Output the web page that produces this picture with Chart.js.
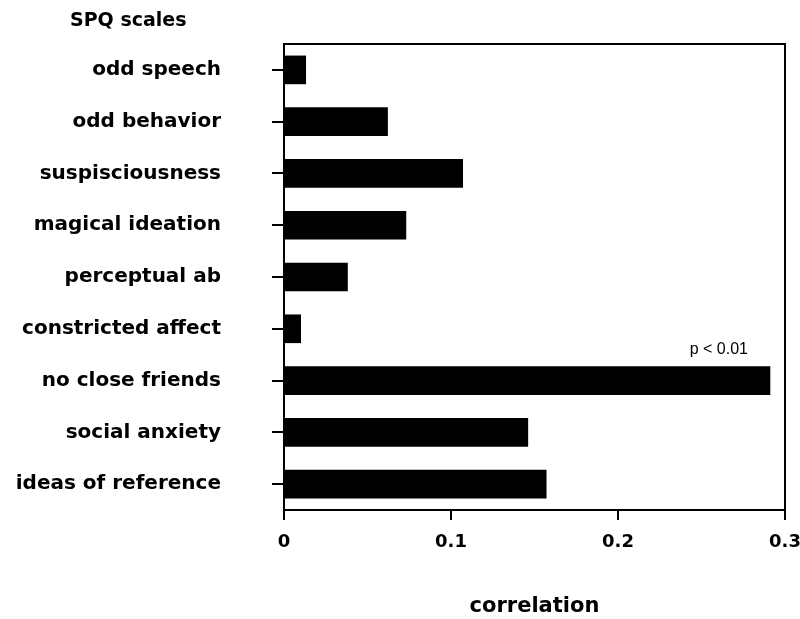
<!DOCTYPE html>
<html><head><meta charset="utf-8">
<script src="https://cdn.jsdelivr.net/npm/chart.js@4"></script>
<style>html,body{margin:0;padding:0;background:#fff}#wrap{width:800px;height:619px}</style>
</head><body><div id="wrap"><canvas id="c" width="800" height="619"></canvas></div>
<script>
const categories = ["odd speech","odd behavior","suspisciousness","magical ideation","perceptual ab","constricted affect","no close friends","social anxiety","ideas of reference"];
const correlations = [0.013,0.062,0.107,0.073,0.038,0.010,0.291,0.146,0.157];
const xTicks = [0,0.1,0.2,0.3];
const xTickLabels = ["0","0.1","0.2","0.3"];
const annotationText = "p < 0.01";
const annotationIndex = 6;

const FONT = '"DejaVu Sans",sans-serif';

const frame = {
  id:'frame',
  afterDraw(chart){
    const {ctx, chartArea:a} = chart;
    ctx.save();
    ctx.strokeStyle='#000'; ctx.lineWidth=2;
    ctx.strokeRect(a.left, a.top, a.right-a.left, a.bottom-a.top);
    ctx.fillStyle='#000';
    ctx.font='bold 19px '+FONT;
    ctx.textAlign='left'; ctx.textBaseline='middle';
    ctx.fillText('SPQ scales', 70, 21);
    const meta = chart.getDatasetMeta(0).data[annotationIndex];
    ctx.font='16px "Liberation Sans",Arial,sans-serif';
    ctx.textAlign='right';
    ctx.fillText(annotationText, meta.x - 22, meta.y - 31);
    ctx.restore();
  }
};

new Chart(document.getElementById('c'), {
  type:'bar',
  data:{labels:categories, datasets:[{data:correlations, backgroundColor:'#000', borderWidth:0, barThickness:28}]},
  options:{
    indexAxis:'y', responsive:false, animation:false,
    layout:{padding:{top:44,right:15,left:0,bottom:0}},
    plugins:{legend:{display:false}, tooltip:{enabled:false}},
    scales:{
      x:{
        min:0,max:0.3,
        afterBuildTicks(s){ s.ticks = xTicks.map(v=>({value:v})); },
        afterFit(s){ s.height = 109; s.paddingLeft = 0; s.paddingRight = 0; },
        grid:{drawOnChartArea:false, drawTicks:true, tickLength:10, color:'#000', lineWidth:2},
        border:{display:true,color:'#000',width:2},
        ticks:{color:'#000', font:{family:FONT, size:18, weight:'bold'}, padding:12, maxRotation:0,
          callback:(v,i)=>xTickLabels[i]},
        title:{display:true,text:'correlation',color:'#000',font:{family:FONT,size:21,weight:'bold'},padding:{top:0,bottom:0}}
      },
      y:{
        afterFit(s){ s.width = 284; s.paddingTop = 0; s.paddingBottom = 0; },
        grid:{offset:false, drawOnChartArea:false, drawTicks:true, tickLength:12, color:'#000', lineWidth:2},
        border:{display:true,color:'#000',width:2},
        ticks:{color:'#000', font:{family:FONT, size:20, weight:'bold'}, padding:51}
      }
    }
  },
  plugins:[frame]
});
</script></body></html>
